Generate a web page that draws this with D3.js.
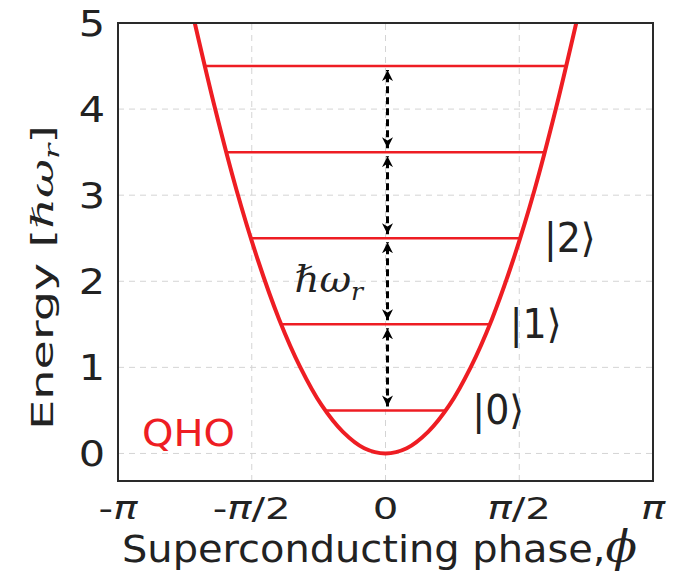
<!DOCTYPE html>
<html>
<head>
<meta charset="utf-8">
<script src="https://cdn.jsdelivr.net/npm/d3@7"></script>
<style>
  body { margin: 0; background: #fff; }
  text { font-family: "DejaVu Sans", sans-serif; fill: #222; }
  .math { font-family: "DejaVu Serif", serif; font-style: italic; }
  .pi { font-family: "DejaVu Sans", sans-serif; font-style: italic; }
</style>
</head>
<body>
<div id="chart"></div>
<script>
// ---- data ----
const xTicks = [-Math.PI, -Math.PI / 2, 0, Math.PI / 2, Math.PI];
const xTickLabels = [["-", "π", ""], ["-", "π", "/2"], ["0", "", ""], ["", "π", "/2"], ["", "π", ""]];
const yTicks = [0, 1, 2, 3, 4, 5];
// potential well, sampled points (phase, energy)
const wellPhi = [-2.24, -2.0, -1.75, -1.5, -1.25, -1.0, -0.75, -0.5, -0.25, 0, 0.25, 0.5, 0.75, 1.0, 1.25, 1.5, 1.75, 2.0, 2.24];
const wellE   = [5.0, 4.0, 3.06, 2.25, 1.56, 1.0, 0.56, 0.25, 0.06, 0, 0.06, 0.25, 0.56, 1.0, 1.56, 2.25, 3.06, 4.0, 5.0];
// energy levels and their half widths (phase) where they meet the well
const levels = [0.5, 1.5, 2.5, 3.5, 4.5];
const levelHalfWidth = [0.71, 1.22, 1.58, 1.87, 2.12];
// state labels
const kets = ["0", "1", "2"];
const ketPhi = [1.02, 1.46, 1.86];
const ketE = [0.5, 1.5, 2.5];

const width = 685, height = 574;
const margin = { top: 23, right: 32, bottom: 93, left: 118 };
const red = "#ee1d23";

const svg = d3.select("#chart").append("svg").attr("width", width).attr("height", height);

const x = d3.scaleLinear().domain([-Math.PI, Math.PI]).range([margin.left, width - margin.right]);
const y = d3.scaleLinear().domain([-0.32, 5]).range([height - margin.bottom, margin.top]);

// text placed with a horizontal stretch (the original figure is stretched)
function label(parent, px, py, sx, fs) {
  return parent.append("text")
    .attr("transform", `translate(${px},${py}) scale(${sx},1)`)
    .attr("font-size", fs);
}

// grid
svg.append("g").selectAll("line").data(xTicks.slice(1, -1)).enter().append("line")
  .attr("x1", d => x(d)).attr("x2", d => x(d))
  .attr("y1", y.range()[0]).attr("y2", y.range()[1])
  .attr("stroke", "#d4d4d4").attr("stroke-width", 1).attr("stroke-dasharray", "6,5");
svg.append("g").selectAll("line").data(yTicks.slice(0, -1)).enter().append("line")
  .attr("y1", d => y(d)).attr("y2", d => y(d))
  .attr("x1", x.range()[0]).attr("x2", x.range()[1])
  .attr("stroke", "#d4d4d4").attr("stroke-width", 1).attr("stroke-dasharray", "6,5");

// clip
svg.append("clipPath").attr("id", "clip").append("rect")
  .attr("x", margin.left).attr("y", margin.top)
  .attr("width", width - margin.left - margin.right)
  .attr("height", height - margin.top - margin.bottom);

const plot = svg.append("g").attr("clip-path", "url(#clip)");

// well
const line = d3.line().x(d => x(d[0])).y(d => y(d[1])).curve(d3.curveCatmullRom);
plot.append("path")
  .datum(wellPhi.map((p, i) => [p, wellE[i]]))
  .attr("d", line)
  .attr("fill", "none").attr("stroke", red).attr("stroke-width", 4);

// levels
plot.selectAll(".level").data(levels).enter().append("line")
  .attr("class", "level")
  .attr("x1", (d, i) => x(-levelHalfWidth[i])).attr("x2", (d, i) => x(levelHalfWidth[i]))
  .attr("y1", d => y(d)).attr("y2", d => y(d))
  .attr("stroke", red).attr("stroke-width", 2.5);

// arrow marker
const defs = svg.append("defs");
["start", "end"].forEach(k => {
  defs.append("marker")
    .attr("id", "arr-" + k)
    .attr("viewBox", "0 0 10 10")
    .attr("refX", 10).attr("refY", 5)
    .attr("markerUnits", "userSpaceOnUse")
    .attr("markerWidth", 11).attr("markerHeight", 11)
    .attr("orient", k == "start" ? "auto-start-reverse" : "auto")
    .append("path").attr("d", "M0,0 L10,5 L0,10 L3,5 Z").attr("fill", "#000");
});

const pairs = d3.pairs(levels);
svg.append("g").selectAll("line").data(pairs).enter().append("line")
  .attr("x1", x(0) + 2).attr("x2", x(0) + 2)
  .attr("y1", d => y(d[0]) - 4).attr("y2", d => y(d[1]) + 4)
  .attr("stroke", "#000").attr("stroke-width", 3)
  .attr("stroke-dasharray", "7,4")
  .attr("marker-start", "url(#arr-start)")
  .attr("marker-end", "url(#arr-end)");

// frame
svg.append("rect")
  .attr("x", margin.left).attr("y", margin.top)
  .attr("width", width - margin.left - margin.right)
  .attr("height", height - margin.top - margin.bottom)
  .attr("fill", "none").attr("stroke", "#2a2a2a").attr("stroke-width", 2);

// y ticks
yTicks.forEach(d => {
  label(svg, margin.left - 13, y(d) + 13, 1.15, 36)
    .attr("text-anchor", "end").text(d);
});

// x ticks
xTicks.forEach((d, i) => {
  const t = label(svg, x(d), height - margin.bottom + 38, 1.3, 31).attr("text-anchor", "middle");
  const parts = xTickLabels[i];
  if (parts[0]) t.append("tspan").text(parts[0]);
  if (parts[1]) t.append("tspan").attr("class", "pi").text(parts[1]);
  if (parts[2]) t.append("tspan").text(parts[2]);
});

// axis titles
const xl = svg.append("text")
  .attr("x", 122).attr("y", height - 12)
  .attr("font-size", 38)
  .attr("textLength", 515).attr("lengthAdjust", "spacingAndGlyphs");
xl.append("tspan").text("Superconducting phase,");
xl.append("tspan").attr("class", "math").attr("font-size", 44).text("ϕ");

const yl = svg.append("text")
  .attr("transform", `translate(53,430) rotate(-90)`)
  .attr("font-size", 30)
  .attr("textLength", 305).attr("lengthAdjust", "spacingAndGlyphs");
yl.append("tspan").text("Energy [");
yl.append("tspan").attr("class", "math").text("ℏω");
yl.append("tspan").attr("class", "math").attr("font-size", 20).attr("dy", 6).text("r");
yl.append("tspan").attr("dy", -6).text("]");

// ħω_r annotation
const hw = label(svg, x(-1.07), y(2) + 11, 1.05, 37);
hw.append("tspan").attr("class", "math").text("ℏω");
hw.append("tspan").attr("class", "math").attr("font-size", 24).attr("dy", 8).text("r");

// kets
kets.forEach((d, i) => {
  label(svg, x(ketPhi[i]), y(ketE[i]) + 14, 0.95, 40).text("|" + d + "⟩");
});

// QHO
label(svg, 142, y(0) - 7, 1.08, 37)
  .style("fill", red)
  .text("QHO");
</script>
</body>
</html>
